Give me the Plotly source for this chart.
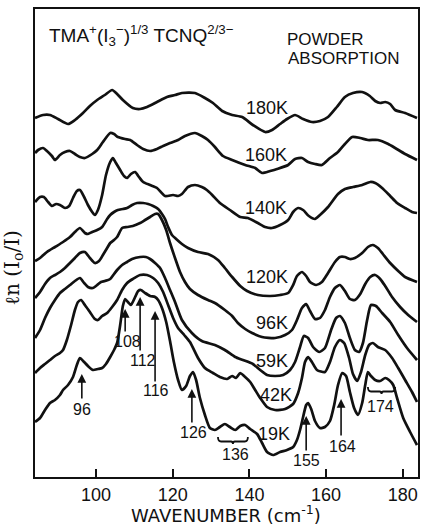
import plotly.graph_objects as go

# wavenumber (cm^-1) and ln(I0/I) (arbitrary offset units)
wn_180 = [84.1,86.2,88.0,90.1,92.7,94.5,96.6,98.4,100.3,102.3,104.2,105.5,107.0,109.6,111.5,113.3,115.9,118.5,120.6,122.4,125.8,128.4,130.5,132.9,135.5,138.1,140.9,144.1,145.9,148.0,149.8,151.9,154.0,156.3,158.4,160.5,162.8,164.9,167.0,169.4,171.4,172.8,174.1,175.4,176.7,178.0,180.6,183.7]
ab_180 = [3.59,3.62,3.62,3.58,3.53,3.57,3.64,3.71,3.77,3.82,3.87,3.83,3.77,3.69,3.68,3.70,3.75,3.80,3.82,3.84,3.84,3.79,3.74,3.66,3.62,3.60,3.52,3.45,3.47,3.53,3.58,3.62,3.58,3.55,3.56,3.60,3.70,3.80,3.84,3.85,3.81,3.76,3.74,3.75,3.73,3.67,3.64,3.59]

wn_160 = [84.1,84.9,86.2,87.2,88.5,89.3,90.6,91.9,93.2,94.5,95.8,97.1,99.0,100.3,101.8,103.7,104.7,105.7,107.6,108.9,110.7,112.3,114.1,115.9,117.5,119.3,121.4,123.2,125.8,127.6,129.2,131.0,133.1,135.5,138.9,141.5,143.3,145.4,147.2,150.1,151.9,153.7,155.3,157.1,158.9,161.0,163.1,164.9,166.8,168.9,170.9,173.5,176.2,178.0,180.6,183.7]
ab_160 = [3.24,3.27,3.29,3.26,3.21,3.17,3.22,3.25,3.26,3.23,3.20,3.19,3.23,3.27,3.35,3.44,3.43,3.40,3.38,3.37,3.32,3.28,3.26,3.28,3.31,3.34,3.37,3.41,3.44,3.41,3.37,3.30,3.21,3.17,3.12,3.09,3.04,3.06,3.08,3.12,3.18,3.19,3.15,3.13,3.12,3.19,3.25,3.33,3.40,3.39,3.37,3.37,3.33,3.29,3.23,3.17]

wn_140 = [84.1,85.4,86.4,87.5,88.5,89.6,90.6,91.9,93.0,94.0,95.0,95.8,96.9,97.9,99.0,99.7,100.5,101.6,102.6,103.7,104.4,105.2,106.3,107.3,108.1,109.1,110.2,111.2,112.3,114.1,115.9,118.0,120.1,121.4,122.4,124.0,125.8,127.6,128.9,130.3,132.3,134.9,137.6,139.6,142.2,144.1,145.9,148.0,150.1,151.4,152.7,154.0,155.5,157.1,158.4,160.5,163.1,164.9,167.0,169.4,171.5,172.8,174.6,176.7,178.5,180.6,182.4,183.7]
ab_140 = [2.75,2.80,2.80,2.75,2.71,2.73,2.72,2.69,2.71,2.79,2.86,2.87,2.80,2.72,2.65,2.62,2.67,2.82,3.02,3.15,3.19,3.14,3.07,3.01,2.99,3.03,3.05,3.00,2.95,2.92,2.89,2.81,2.82,2.81,2.83,2.90,2.92,2.90,2.87,2.82,2.74,2.67,2.60,2.59,2.54,2.50,2.49,2.52,2.57,2.65,2.69,2.67,2.61,2.58,2.62,2.70,2.83,2.88,2.90,2.92,2.95,2.94,2.89,2.81,2.74,2.69,2.65,2.64]

wn_120 = [84.1,85.4,87.2,89.3,91.4,93.2,94.5,95.8,97.1,97.9,99.0,100.3,101.6,102.9,103.7,104.7,105.7,107.0,108.1,109.4,110.7,112.3,113.6,114.9,116.2,117.2,118.0,118.8,119.8,120.9,122.4,124.0,126.6,129.2,131.8,133.6,135.5,137.6,139.4,142.2,145.4,148.0,150.1,151.4,152.4,153.7,154.8,155.8,157.4,158.9,160.5,162.3,163.6,164.9,166.2,167.5,169.4,170.9,172.2,173.5,174.8,176.7,178.8,180.6,183.7]
ab_120 = [2.16,2.19,2.25,2.30,2.35,2.40,2.45,2.49,2.44,2.43,2.45,2.47,2.50,2.58,2.62,2.65,2.67,2.68,2.69,2.72,2.74,2.74,2.73,2.71,2.68,2.63,2.58,2.50,2.42,2.38,2.33,2.29,2.25,2.23,2.17,2.09,2.00,1.91,1.86,1.82,1.81,1.82,1.84,1.92,2.01,2.05,2.01,1.95,1.92,1.95,2.04,2.15,2.20,2.20,2.18,2.19,2.24,2.30,2.32,2.29,2.23,2.14,2.06,2.00,1.95]

wn_96 = [84.1,85.4,86.7,88.0,89.3,90.6,91.9,93.2,94.5,95.8,97.1,98.4,99.7,100.8,101.8,102.9,103.7,104.7,105.5,106.8,108.1,109.6,111.5,112.8,114.1,115.4,116.2,117.2,118.3,119.3,120.6,121.9,123.2,124.5,126.6,129.2,131.0,133.6,135.5,137.0,138.9,140.7,143.3,146.7,149.3,151.1,152.4,153.7,154.8,155.8,157.1,158.4,159.7,161.0,162.3,163.6,164.9,166.2,167.5,168.9,170.2,171.5,172.8,174.1,175.4,177.2,179.3,181.4,183.7]
ab_96 = [1.79,1.85,1.93,1.99,2.02,2.05,2.09,2.14,2.19,2.24,2.25,2.19,2.14,2.16,2.22,2.29,2.34,2.37,2.40,2.49,2.50,2.51,2.54,2.57,2.60,2.63,2.63,2.57,2.47,2.34,2.19,2.05,1.95,1.88,1.82,1.77,1.74,1.67,1.61,1.54,1.48,1.44,1.40,1.39,1.42,1.47,1.57,1.69,1.73,1.66,1.58,1.59,1.67,1.80,1.89,1.92,1.86,1.78,1.77,1.83,1.93,2.00,2.02,1.98,1.91,1.80,1.70,1.62,1.55]

wn_59 = [84.1,85.4,86.7,88.0,89.3,90.6,91.9,93.2,94.5,95.8,96.9,97.9,99.2,100.3,101.3,102.3,103.7,104.7,105.5,106.8,108.1,109.4,111.5,113.0,114.1,115.4,116.7,118.0,119.3,120.6,122.4,125.0,127.6,131.0,133.6,136.3,138.3,140.9,142.8,144.6,146.7,148.8,150.6,151.9,153.2,154.2,155.3,156.6,158.2,159.7,161.3,162.6,163.6,164.9,166.2,167.5,168.6,169.6,170.7,171.7,173.0,174.6,176.7,178.8,181.1,183.7]
ab_59 = [1.39,1.47,1.59,1.69,1.77,1.84,1.88,1.92,1.96,1.99,1.94,1.90,1.89,1.92,1.95,1.96,1.98,2.03,2.07,2.12,2.15,2.18,2.20,2.20,2.18,2.14,2.09,1.99,1.87,1.75,1.57,1.44,1.36,1.32,1.27,1.20,1.17,1.13,1.07,1.02,1.01,1.02,1.07,1.15,1.30,1.41,1.39,1.30,1.25,1.29,1.47,1.59,1.61,1.54,1.39,1.27,1.25,1.34,1.57,1.72,1.71,1.64,1.55,1.42,1.29,1.17]

wn_42 = [84.1,85.4,86.7,88.0,89.3,90.6,91.4,92.4,93.5,94.5,95.3,96.1,97.1,98.4,99.7,100.5,101.6,102.9,104.2,105.5,106.8,108.1,109.6,111.5,113.3,114.9,116.2,117.5,118.8,120.1,121.4,123.0,124.5,126.6,128.4,130.5,132.3,134.2,135.5,136.5,137.6,138.6,140.2,141.5,142.8,144.6,146.7,149.3,151.4,152.7,153.7,154.5,155.3,156.3,157.6,159.7,161.0,162.3,163.6,164.7,166.0,167.0,168.1,169.1,170.2,171.2,172.2,173.5,175.4,177.2,178.8,180.6,182.4,183.7]
ab_42 = [1.04,1.09,1.13,1.17,1.21,1.24,1.27,1.37,1.52,1.67,1.75,1.77,1.72,1.65,1.58,1.57,1.61,1.64,1.70,1.77,1.87,1.94,1.98,2.02,2.02,1.99,1.94,1.85,1.72,1.59,1.49,1.42,1.35,1.19,1.09,1.04,1.00,0.98,1.01,0.99,1.04,1.01,0.95,0.87,0.79,0.70,0.67,0.68,0.73,0.84,0.99,1.15,1.20,1.15,1.07,1.05,1.15,1.30,1.37,1.34,1.19,1.03,0.96,1.05,1.22,1.32,1.34,1.30,1.27,1.19,1.09,0.97,0.85,0.75]

wn_19 = [84.1,85.4,86.7,88.0,89.3,90.6,91.4,92.7,94.0,95.0,95.8,96.9,97.9,99.2,100.5,101.6,102.6,103.7,104.7,105.5,106.3,107.0,107.6,108.3,109.1,110.2,111.0,111.7,112.8,114.1,115.4,116.2,117.2,118.3,119.3,120.3,121.4,122.4,123.5,124.5,125.3,126.1,127.1,128.4,129.7,131.0,132.3,133.6,134.9,136.3,137.6,138.9,140.2,142.0,143.3,144.6,146.2,148.0,149.8,151.4,152.4,153.2,154.0,154.8,155.3,156.1,157.1,158.4,159.7,161.0,162.1,163.1,164.2,165.2,166.2,167.3,168.3,169.4,170.2,170.9,171.7,172.8,174.1,175.4,176.4,177.5,178.5,180.1,181.9,183.7]
ab_19 = [0.55,0.59,0.67,0.74,0.77,0.82,0.87,0.92,1.00,1.12,1.19,1.15,1.11,1.07,1.08,1.09,1.13,1.20,1.27,1.34,1.52,1.71,1.78,1.75,1.72,1.80,1.86,1.87,1.84,1.81,1.80,1.77,1.69,1.55,1.36,1.15,0.97,0.87,0.91,1.01,1.05,0.97,0.79,0.62,0.49,0.47,0.50,0.53,0.50,0.47,0.51,0.52,0.48,0.43,0.34,0.25,0.22,0.25,0.27,0.30,0.37,0.47,0.60,0.72,0.74,0.68,0.56,0.49,0.50,0.56,0.72,0.92,1.04,1.01,0.85,0.69,0.62,0.74,0.92,1.05,1.01,0.97,0.96,0.99,0.97,0.92,0.79,0.59,0.45,0.32]

series = [
    ("180K", wn_180, ab_180), ("160K", wn_160, ab_160), ("140K", wn_140, ab_140),
    ("120K", wn_120, ab_120), ("96K", wn_96, ab_96), ("59K", wn_59, ab_59),
    ("42K", wn_42, ab_42), ("19K", wn_19, ab_19),
]

# temperature label positions (wavenumber, ln units)
temp_labels = ["180K", "160K", "140K", "120K", "96K", "59K", "42K", "19K"]
temp_x = [144.6, 144.3, 144.3, 144.6, 145.9, 145.9, 146.9, 146.4]
temp_y = [3.69, 3.22, 2.69, 2.00, 1.54, 1.16, 0.82, 0.43]

# peak assignments on the 19K spectrum
peak_labels = ["96", "108", "112", "116", "126", "136", "155", "164", "174"]
peak_lx = [96.3, 108.3, 112.3, 115.6, 125.3, 136.5, 155.0, 164.2, 174.3]
peak_ly = [0.68, 1.36, 1.17, 0.87, 0.45, 0.23, 0.17, 0.31, 0.71]
arrow_x = [96.3, 107.6, 111.5, 115.4, 125.0, 154.8, 163.9]
arrow_tip = [1.03, 1.68, 1.80, 1.66, 0.88, 0.61, 0.78]
arrow_tail = [0.77, 1.44, 1.25, 0.94, 0.53, 0.25, 0.40]

xticks = [100, 120, 140, 160, 180]

FONT = "Liberation Sans"
fig = go.Figure()
for name, x, y in series:
    fig.add_trace(go.Scatter(x=x, y=y, mode="lines", name=name,
                             line=dict(color="#111111", width=2.7, shape="spline", smoothing=0.6),
                             showlegend=False, hoverinfo="skip"))

ann = []
for t, x, y in zip(temp_labels, temp_x, temp_y):
    ann.append(dict(x=x, y=y, text=t, showarrow=False, xanchor="center", yanchor="middle",
                    font=dict(size=18, family=FONT, color="#111")))
for t, x, y in zip(peak_labels, peak_lx, peak_ly):
    ann.append(dict(x=x, y=y, text=t, showarrow=False, xanchor="center", yanchor="middle",
                    font=dict(size=16, family=FONT, color="#111")))
for x, tip, tail in zip(arrow_x, arrow_tip, arrow_tail):
    ann.append(dict(x=x, y=tip, ax=x, ay=tail, axref="x", ayref="y", text="",
                    showarrow=True, arrowhead=2, arrowsize=1.1, arrowwidth=1.6,
                    arrowcolor="#111", standoff=0, startstandoff=0))

ann.append(dict(x=87.2, y=4.42, xanchor="left", yanchor="middle", showarrow=False,
                text="TMA<sup>+</sup>(I<sub>3</sub><sup>−</sup>)<sup>1/3</sup> TCNQ<sup>2/3−</sup>",
                font=dict(size=19, family=FONT, color="#111")))
ann.append(dict(x=149.3, y=4.38, xanchor="left", yanchor="middle", showarrow=False,
                text="POWDER", font=dict(size=17, family=FONT, color="#111")))
ann.append(dict(x=149.6, y=4.19, xanchor="left", yanchor="middle", showarrow=False,
                text="ABSORPTION", font=dict(size=17, family=FONT, color="#111")))
ann.append(dict(xref="paper", yref="paper", x=0.499, y=-0.080, showarrow=False,
                xanchor="center", yanchor="middle",
                text="WAVENUMBER (cm<sup>-1</sup>)", font=dict(size=18, family="DejaVu Sans", color="#111")))
ann.append(dict(xref="paper", yref="paper", x=-0.058, y=0.447, showarrow=False,
                xanchor="center", yanchor="middle", textangle=-90,
                text="ℓn (I<sub>o</sub>/I)", font=dict(size=20, family="DejaVu Serif", color="#111")))

# curly braces under the 136 and 174 band groups
def brace(x0, x1, ytop, ymid, ytip):
    xm = (x0 + x1) / 2
    return (f"M {x0},{ytop} Q {x0},{ymid} {x0+0.8},{ymid} L {xm-0.5},{ymid} "
            f"Q {xm},{ymid} {xm},{ytip} Q {xm},{ymid} {xm+0.5},{ymid} "
            f"L {x1-0.8},{ymid} Q {x1},{ymid} {x1},{ytop}")

shapes = [
    dict(type="path", xref="x", yref="y", path=brace(131.8, 139.6, 0.40, 0.355, 0.33),
         line=dict(color="#111", width=1.8)),
    dict(type="path", xref="x", yref="y", path=brace(170.9, 178.0, 0.90, 0.855, 0.83),
         line=dict(color="#111", width=1.8)),
]

fig.update_layout(
    width=421, height=528,
    margin=dict(l=35, r=3, t=9, b=51, autoexpand=False),
    paper_bgcolor="white", plot_bgcolor="white",
    annotations=ann, shapes=shapes,
    xaxis=dict(range=[84.09, 183.96], tickvals=xticks, ticks="inside", ticklen=8,
               tickwidth=2, tickcolor="#111", showline=True, linewidth=2, linecolor="#111",
               mirror=True, showgrid=False, zeroline=False, automargin=False,
               tickfont=dict(size=18, family=FONT, color="#111")),
    yaxis=dict(range=[0, 4.68], showticklabels=False, ticks="", showline=True,
               linewidth=2, linecolor="#111", mirror=True, showgrid=False, zeroline=False,
               automargin=False),
)
fig.write_html("out.html", config={"displayModeBar": False},
               post_script="document.body.style.margin='0';document.body.style.overflow='hidden';")
